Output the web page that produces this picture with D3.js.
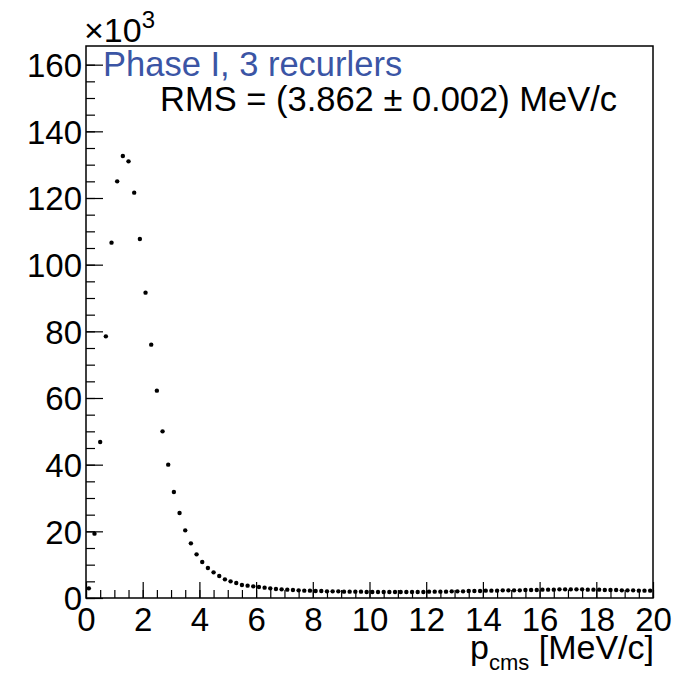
<!DOCTYPE html>
<html>
<head>
<meta charset="utf-8">
<script src="https://cdn.jsdelivr.net/npm/d3@7"></script>
<style>
  body { margin: 0; background: #fff; }
  text { font-family: "Liberation Sans", Arial, Helvetica, sans-serif; }
</style>
</head>
<body>
<div id="chart"></div>
<script>
// histogram: 100 bins of 0.2 MeV/c, counts in units of 10^3
var binCenters = d3.range(100).map(function(i) { return 0.1 + 0.2 * i; });
var counts = [
  2.9, 19.3, 46.8, 78.5, 106.6, 125.0, 132.6, 131.0, 121.6, 107.7,
  91.6, 76.0, 62.2, 50.0, 40.0, 31.8, 25.5, 20.3, 16.4, 13.1,
  10.8, 9.0, 7.7, 6.6, 5.6, 5.0, 4.5, 3.9, 3.7, 3.5,
  3.3, 3.1, 2.9, 2.7, 2.6, 2.5, 2.4, 2.3, 2.2, 2.2,
  2.1, 2.1, 2.0, 2.0, 2.0, 1.9, 1.9, 1.9, 1.9, 1.8,
  1.8, 1.8, 1.8, 1.8, 1.8, 1.8, 1.8, 1.8, 1.8, 1.8,
  1.9, 1.9, 1.9, 1.9, 2.0, 2.0, 2.0, 2.1, 2.1, 2.1,
  2.2, 2.2, 2.2, 2.3, 2.3, 2.3, 2.3, 2.4, 2.4, 2.4,
  2.5, 2.5, 2.5, 2.6, 2.6, 2.6, 2.6, 2.6, 2.5, 2.5,
  2.5, 2.4, 2.4, 2.4, 2.3, 2.3, 2.3, 2.2, 2.2, 2.2
];
var xTicks = [0, 2, 4, 6, 8, 10, 12, 14, 16, 18, 20];
var yTicks = [0, 20, 40, 60, 80, 100, 120, 140, 160];
var legendText = "Phase I, 3 recurlers";
var rmsText = "RMS = (3.862 \u00b1 0.002) MeV/c";

// --> SVG AREA
var W = 686, H = 676;
var margin = {top: 46, right: 33, bottom: 78, left: 86};
var width = W - margin.left - margin.right;
var height = H - margin.top - margin.bottom;

var svg = d3.select("#chart").append("svg")
    .attr("width", W)
    .attr("height", H);
var g = svg.append("g")
    .attr("transform", "translate(" + margin.left + "," + margin.top + ")");

var x = d3.scaleLinear().domain([0, 20]).range([0, width]);
var y = d3.scaleLinear().domain([0, 165.6]).range([height, 0]);

// minor ticks first
g.append("g")
    .attr("transform", "translate(0," + height + ")")
    .call(d3.axisBottom(x).tickValues(d3.range(0, 20.01, 0.5)).tickSize(-8).tickFormat(""))
    .call(function(a) { a.select(".domain").remove(); });
g.append("g")
    .call(d3.axisLeft(y).tickValues(d3.range(0, 165, 5)).tickSize(-9).tickFormat(""))
    .call(function(a) { a.select(".domain").remove(); });

// major ticks + labels
var xAxis = g.append("g")
    .attr("transform", "translate(0," + height + ")")
    .call(d3.axisBottom(x).tickValues(xTicks).tickSize(-16).tickPadding(6));
xAxis.select(".domain").remove();
xAxis.selectAll("text")
    .attr("y", 33)
    .attr("dy", 0)
    .style("font-size", "33px")
    .attr("fill", "#000");

var yAxis = g.append("g")
    .call(d3.axisLeft(y).tickValues(yTicks).tickSize(-17).tickPadding(4));
yAxis.select(".domain").remove();
yAxis.selectAll("text")
    .style("font-size", "33px")
    .attr("dy", "0.36em")
    .attr("fill", "#000");

g.selectAll(".tick line").attr("stroke", "#000").attr("stroke-width", 1.2);

// frame
g.append("rect")
    .attr("width", width)
    .attr("height", height)
    .attr("fill", "none")
    .attr("stroke", "#000")
    .attr("stroke-width", 1.5);

// data points
g.selectAll(".pt")
    .data(counts)
    .enter().append("circle")
    .attr("class", "pt")
    .attr("cx", function(d, i) { return x(binCenters[i]); })
    .attr("cy", function(d) { return y(d); })
    .attr("r", 2.2)
    .attr("fill", "#000");

// exponent label
var ex = svg.append("text")
    .attr("x", 84)
    .attr("y", 42)
    .style("font-size", "34px");
ex.append("tspan").text("\u00d710");
ex.append("tspan").attr("dy", -14).style("font-size", "24px").text("3");

// legend texts
svg.append("text")
    .attr("x", 103)
    .attr("y", 76)
    .style("font-size", "34.5px")
    .attr("fill", "#3b55a5")
    .text(legendText);
svg.append("text")
    .attr("x", 160)
    .attr("y", 111)
    .style("font-size", "34.5px")
    .attr("fill", "#000")
    .text(rmsText);

// x axis title
var xt = svg.append("text")
    .attr("x", 654)
    .attr("y", 659)
    .attr("text-anchor", "end")
    .style("font-size", "34px");
xt.append("tspan").text("p");
xt.append("tspan").attr("dy", 11).style("font-size", "22px").text("cms");
xt.append("tspan").attr("dy", -11).text(" [MeV/c]");
</script>
</body>
</html>
